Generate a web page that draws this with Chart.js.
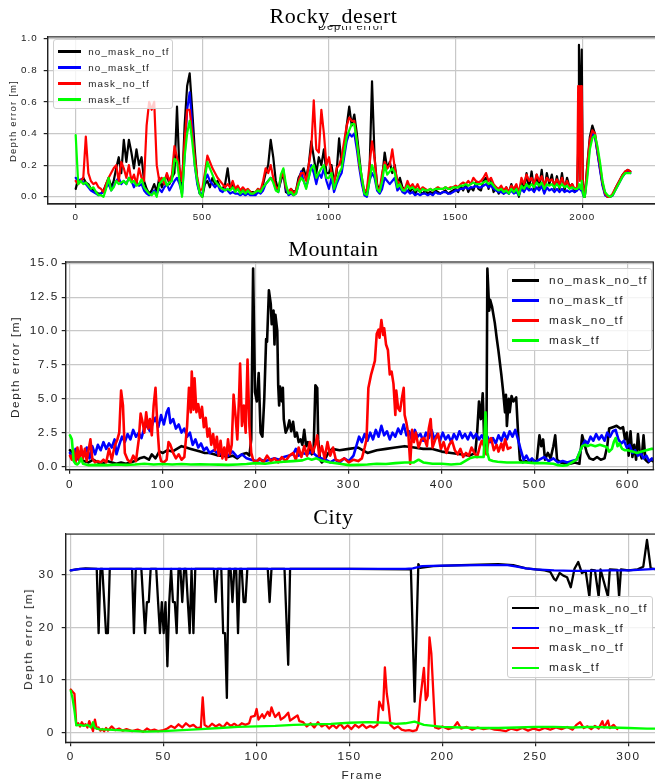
<!DOCTYPE html>
<html><head><meta charset="utf-8">
<script src="https://cdn.jsdelivr.net/npm/chart.js@4.4.0/dist/chart.umd.min.js"></script>
<style>
html,body{margin:0;padding:0;width:655px;height:783px;overflow:hidden;background:#fff;position:relative;}
canvas{position:absolute;}
.title{position:absolute;left:0;width:667px;text-align:center;font-family:'Liberation Serif','Times New Roman',serif;font-size:22px;line-height:22px;color:#000;letter-spacing:0.6px;z-index:3;}
.ylab{position:absolute;transform:translate(-50%,-50%) rotate(-90deg);white-space:nowrap;font-family:'Liberation Sans',Arial,sans-serif;color:#222;}
.lbl{position:absolute;white-space:nowrap;font-family:'Liberation Sans',Arial,sans-serif;color:#222;}
.legend{position:absolute;background:rgba(255,255,255,0.8);border:1px solid #cfcfcf;border-radius:3px;box-sizing:border-box;font-family:'Liberation Sans',Arial,sans-serif;color:#222;z-index:4;}
.legend .ln{position:absolute;}
.legend .tx{position:absolute;white-space:nowrap;}
</style></head><body>

<canvas id="c1" width="662" height="200" style="left:0;top:25px;width:662px;height:200px"></canvas>
<canvas id="c2" width="660" height="240" style="left:0;top:250px;width:660px;height:240px"></canvas>
<canvas id="c3" width="662" height="263" style="left:0;top:520px;width:662px;height:263px"></canvas>

<div style="position:absolute;left:290px;top:25.5px;width:130px;height:7px;overflow:hidden;z-index:2">
  <div class="lbl" style="left:28px;top:-5px;font-size:11px;line-height:11px;letter-spacing:1px">Depth error</div>
</div>
<div class="title" style="top:5px">Rocky_desert</div>
<div class="title" style="top:238.3px">Mountain</div>
<div class="title" style="top:505.6px">City</div>

<div class="ylab" style="left:12.3px;top:120.5px;font-size:9.5px;letter-spacing:1.2px">Depth error [m]</div>
<div class="ylab" style="left:15px;top:366.5px;font-size:11.8px;letter-spacing:1.5px">Depth error [m]</div>
<div class="ylab" style="left:28px;top:639px;font-size:11.8px;letter-spacing:1.5px">Depth error [m]</div>
<div class="lbl" style="left:341.5px;top:768px;font-size:11.8px;line-height:14px;letter-spacing:1.5px">Frame</div>

<div class="legend" style="left:53.3px;top:39.3px;width:120px;height:70px;font-size:9.8px;letter-spacing:1.1px">
  <div class="ln" style="left:3.4px;width:23.3px;top:10.2px;height:2.2px;background:#000"></div><div class="tx" style="left:34px;top:5.4px;line-height:12px">no_mask_no_tf</div>
  <div class="ln" style="left:3.4px;width:23.3px;top:26.2px;height:2.2px;background:#0000ff"></div><div class="tx" style="left:34px;top:21.4px;line-height:12px">no_mask_tf</div>
  <div class="ln" style="left:3.4px;width:23.3px;top:42.2px;height:2.2px;background:#ff0000"></div><div class="tx" style="left:34px;top:37.4px;line-height:12px">mask_no_tf</div>
  <div class="ln" style="left:3.4px;width:23.3px;top:58.2px;height:2.2px;background:#00ff00"></div><div class="tx" style="left:34px;top:53.4px;line-height:12px">mask_tf</div>
</div>
<div class="legend" style="left:506.7px;top:268px;width:145px;height:83.3px;font-size:11.8px;letter-spacing:1.4px">
  <div class="ln" style="left:4px;width:27.3px;top:10.4px;height:2.6px;background:#000"></div><div class="tx" style="left:41.3px;top:4.2px;line-height:14px">no_mask_no_tf</div>
  <div class="ln" style="left:4px;width:27.3px;top:30.4px;height:2.6px;background:#0000ff"></div><div class="tx" style="left:41.3px;top:24.2px;line-height:14px">no_mask_tf</div>
  <div class="ln" style="left:4px;width:27.3px;top:50.4px;height:2.6px;background:#ff0000"></div><div class="tx" style="left:41.3px;top:44.2px;line-height:14px">mask_no_tf</div>
  <div class="ln" style="left:4px;width:27.3px;top:70.4px;height:2.6px;background:#00ff00"></div><div class="tx" style="left:41.3px;top:64.2px;line-height:14px">mask_tf</div>
</div>
<div class="legend" style="left:506.5px;top:596px;width:146px;height:82.3px;font-size:11.8px;letter-spacing:1.4px">
  <div class="ln" style="left:4px;width:27.3px;top:10.1px;height:2.4px;background:#000"></div><div class="tx" style="left:41.6px;top:3.8px;line-height:14px">no_mask_no_tf</div>
  <div class="ln" style="left:4px;width:27.3px;top:30.1px;height:2.4px;background:#0000ff"></div><div class="tx" style="left:41.6px;top:23.8px;line-height:14px">no_mask_tf</div>
  <div class="ln" style="left:4px;width:27.3px;top:49.5px;height:2.4px;background:#ff0000"></div><div class="tx" style="left:41.6px;top:43.2px;line-height:14px">mask_no_tf</div>
  <div class="ln" style="left:4px;width:27.3px;top:69.5px;height:2.4px;background:#00ff00"></div><div class="tx" style="left:41.6px;top:63.2px;line-height:14px">mask_tf</div>
</div>

<script>
// ---------------- DATA ----------------
const seriesNames = ['no_mask_no_tf', 'no_mask_tf', 'mask_no_tf', 'mask_tf'];
const seriesColors = ['#000000', '#0000ff', '#ff0000', '#00ff00'];

// Rocky_desert: shared frame positions, one value per frame for each series
const rockyFrames = [
0,10,20,30,40,50,60,70,80,90,
100,110,120,130,140,150,160,170,180,190,
200,210,220,230,240,250,260,270,280,290,
300,310,320,330,340,350,360,370,380,390,
400,410,420,430,440,450,460,470,480,490,
500,510,520,530,540,550,560,570,580,590,
600,610,620,630,640,650,660,670,680,690,
700,710,720,730,740,750,760,770,780,790,
800,810,820,830,840,850,860,870,880,890,
900,910,920,930,940,950,960,970,980,990,
1000,1010,1020,1030,1040,1050,1060,1070,1080,1090,
1100,1110,1120,1130,1140,1150,1160,1170,1180,1190,
1200,1210,1220,1230,1240,1250,1260,1270,1280,1290,
1300,1310,1320,1330,1340,1350,1360,1370,1380,1390,
1400,1410,1420,1430,1440,1450,1460,1470,1480,1490,
1500,1510,1520,1530,1540,1550,1560,1570,1580,1590,
1600,1610,1620,1630,1640,1650,1660,1670,1680,1690,
1700,1710,1720,1730,1740,1750,1760,1770,1780,1790,
1800,1810,1820,1830,1840,1850,1860,1870,1880,1890,
1900,1910,1920,1930,1940,1950,1960,1970,
1980,1984,1987,1991,1995,1998,2002,2006,2010,
2020,2030,2040,2050,2060,2070,2080,2090,2100,2110,2120,2130,2140,2150,2160,2170,2180,2190];

const rockyNoMaskNoTf = [
0.05,0.11,0.10,0.12,0.09,0.08,0.05,0.04,0.03,0.02,
0.02,0.04,0.08,0.12,0.06,0.10,0.18,0.25,0.15,0.36,
0.22,0.36,0.28,0.18,0.30,0.20,0.25,0.10,0.05,0.02,
0.04,0.08,0.03,0.12,0.06,0.10,0.14,0.08,0.12,0.15,
0.57,0.15,0.05,0.45,0.70,0.78,0.55,0.30,0.10,0.02,
0.00,0.08,0.10,0.06,0.12,0.08,0.10,0.06,0.05,0.08,
0.18,0.05,0.08,0.04,0.06,0.03,0.05,0.02,0.04,0.03,
0.03,0.02,0.05,0.03,0.08,0.15,0.20,0.36,0.25,0.10,
0.04,0.10,0.15,0.03,0.02,0.05,0.03,0.04,0.12,0.15,
0.18,0.12,0.20,0.35,0.25,0.15,0.25,0.20,0.30,0.15,
0.15,0.20,0.10,0.15,0.37,0.20,0.30,0.45,0.57,0.45,
0.52,0.40,0.25,0.10,0.02,0.03,0.15,0.73,0.25,0.08,
0.03,0.12,0.28,0.18,0.22,0.15,0.20,0.08,0.12,0.06,
0.04,0.08,0.03,0.06,0.02,0.05,0.03,0.02,0.04,0.02,
0.03,0.02,0.04,0.03,0.02,0.03,0.04,0.02,0.03,0.04,
0.05,0.03,0.07,0.04,0.08,0.03,0.06,0.04,0.09,0.05,
0.04,0.10,0.12,0.05,0.10,0.03,0.06,0.02,0.05,0.02,
0.06,0.02,0.08,0.03,0.06,0.00,0.10,0.04,0.15,0.05,
0.16,0.04,0.14,0.06,0.17,0.03,0.15,0.08,0.14,0.05,
0.13,0.05,0.15,0.04,0.12,0.06,0.08,0.03,
0.05,0.30,0.96,0.40,0.70,0.93,0.10,0.02,0.00,
0.20,0.38,0.45,0.40,0.28,0.18,0.08,0.02,0.00,0.00,0.01,0.05,0.08,0.11,0.14,0.16,0.17,0.16];

const rockyNoMaskTf = [
0.12,0.10,0.11,0.09,0.08,0.06,0.04,0.03,0.02,0.01,
0.02,0.03,0.06,0.08,0.04,0.07,0.10,0.12,0.08,0.10,
0.08,0.12,0.10,0.06,0.09,0.07,0.08,0.04,0.02,0.01,
0.02,0.04,0.02,0.05,0.03,0.06,0.08,0.04,0.07,0.10,
0.12,0.08,0.02,0.25,0.55,0.66,0.45,0.20,0.08,0.02,
0.02,0.10,0.14,0.10,0.08,0.06,0.08,0.04,0.03,0.05,
0.04,0.02,0.03,0.02,0.02,0.01,0.02,0.01,0.02,0.01,
0.01,0.01,0.03,0.02,0.04,0.08,0.10,0.12,0.10,0.05,
0.03,0.12,0.17,0.05,0.01,0.02,0.01,0.02,0.08,0.16,
0.10,0.06,0.12,0.20,0.15,0.08,0.15,0.12,0.18,0.10,
0.05,0.12,0.03,0.08,0.12,0.15,0.25,0.35,0.40,0.38,
0.40,0.30,0.18,0.08,0.01,0.00,0.10,0.15,0.12,0.04,
0.02,0.05,0.12,0.10,0.08,0.10,0.12,0.04,0.06,0.03,
0.02,0.04,0.02,0.03,0.01,0.02,0.01,0.02,0.02,0.01,
0.02,0.01,0.03,0.02,0.02,0.03,0.03,0.02,0.02,0.03,
0.04,0.04,0.05,0.05,0.06,0.05,0.06,0.06,0.07,0.06,
0.06,0.07,0.08,0.06,0.07,0.05,0.04,0.03,0.03,0.02,
0.03,0.02,0.04,0.02,0.03,0.01,0.05,0.03,0.06,0.04,
0.05,0.03,0.06,0.04,0.07,0.02,0.06,0.04,0.05,0.03,
0.05,0.03,0.05,0.03,0.04,0.03,0.04,0.03,
0.04,0.05,0.06,0.05,0.04,0.05,0.02,0.00,0.00,
0.15,0.33,0.40,0.38,0.28,0.17,0.07,0.01,0.00,0.00,0.01,0.04,0.07,0.10,0.13,0.15,0.16,0.15];

const rockyMaskNoTf = [
0.10,0.08,0.10,0.12,0.38,0.15,0.10,0.08,0.09,0.06,
0.05,0.03,0.08,0.12,0.15,0.18,0.20,0.10,0.22,0.18,
0.12,0.20,0.10,0.14,0.08,0.18,0.12,0.10,0.45,0.60,
0.55,0.60,0.20,0.10,0.12,0.08,0.15,0.10,0.14,0.32,
0.25,0.18,0.10,0.35,0.55,0.55,0.40,0.25,0.12,0.04,
0.05,0.15,0.26,0.22,0.18,0.15,0.12,0.10,0.08,0.06,
0.08,0.06,0.10,0.05,0.07,0.04,0.06,0.04,0.05,0.03,
0.02,0.03,0.05,0.04,0.10,0.18,0.15,0.20,0.12,0.06,
0.05,0.12,0.15,0.06,0.03,0.05,0.02,0.04,0.10,0.15,
0.15,0.10,0.20,0.30,0.61,0.30,0.28,0.55,0.40,0.20,
0.25,0.15,0.08,0.18,0.20,0.25,0.35,0.45,0.50,0.48,
0.48,0.35,0.20,0.12,0.03,0.05,0.20,0.35,0.25,0.06,
0.04,0.15,0.22,0.18,0.20,0.30,0.18,0.10,0.08,0.05,
0.05,0.10,0.06,0.08,0.05,0.08,0.04,0.06,0.05,0.04,
0.05,0.04,0.05,0.06,0.05,0.05,0.06,0.05,0.06,0.06,
0.07,0.06,0.08,0.09,0.08,0.10,0.08,0.12,0.10,0.09,
0.10,0.12,0.15,0.10,0.12,0.08,0.06,0.05,0.07,0.04,
0.06,0.03,0.07,0.05,0.08,0.02,0.12,0.08,0.14,0.10,
0.12,0.08,0.14,0.10,0.13,0.07,0.12,0.10,0.11,0.08,
0.11,0.08,0.12,0.07,0.10,0.06,0.08,0.05,
0.06,0.70,0.68,0.10,0.70,0.70,0.08,0.02,0.00,
0.20,0.36,0.42,0.40,0.30,0.20,0.09,0.02,0.00,0.00,0.02,0.05,0.08,0.11,0.14,0.16,0.17,0.16];

const rockyMaskTf = [
0.39,0.08,0.10,0.08,0.09,0.07,0.05,0.06,0.03,0.01,
0.01,0.00,0.05,0.12,0.04,0.06,0.10,0.08,0.09,0.10,
0.08,0.12,0.09,0.10,0.07,0.08,0.11,0.06,0.04,0.02,
0.01,0.03,0.00,0.08,0.10,0.12,0.07,0.09,0.10,0.24,
0.22,0.10,0.00,0.25,0.40,0.48,0.35,0.20,0.10,0.02,
0.00,0.12,0.22,0.18,0.14,0.10,0.08,0.06,0.05,0.04,
0.05,0.04,0.06,0.03,0.05,0.02,0.04,0.02,0.04,0.02,
0.02,0.03,0.04,0.03,0.06,0.08,0.10,0.12,0.09,0.04,
0.03,0.14,0.18,0.08,0.02,0.03,0.01,0.02,0.08,0.12,
0.10,0.05,0.12,0.18,0.20,0.12,0.15,0.18,0.20,0.12,
0.12,0.15,0.05,0.10,0.15,0.18,0.28,0.38,0.42,0.46,
0.46,0.35,0.22,0.12,0.02,0.01,0.10,0.20,0.15,0.05,
0.03,0.10,0.20,0.14,0.16,0.18,0.15,0.06,0.08,0.04,
0.04,0.07,0.05,0.06,0.04,0.05,0.03,0.05,0.04,0.04,
0.05,0.04,0.05,0.05,0.05,0.05,0.06,0.05,0.05,0.06,
0.06,0.06,0.07,0.07,0.08,0.07,0.08,0.09,0.08,0.08,
0.08,0.09,0.10,0.08,0.09,0.07,0.05,0.04,0.05,0.03,
0.04,0.02,0.05,0.03,0.05,0.01,0.07,0.05,0.08,0.06,
0.08,0.06,0.09,0.07,0.09,0.05,0.08,0.07,0.08,0.06,
0.08,0.06,0.08,0.06,0.07,0.05,0.06,0.05,
0.05,0.06,0.08,0.06,0.05,0.10,0.03,0.00,0.00,
0.12,0.30,0.37,0.39,0.32,0.22,0.10,0.03,0.01,0.00,0.01,0.04,0.07,0.10,0.13,0.15,0.15,0.15];

// Mountain: [frame, value] pairs per series
const mountainNoMaskNoTf = [[0,1.2],[3,1.0],[6,1.1],[10,0.6],[15,0.4],[20,0.3],[25,0.5],[30,0.3],[35,0.2],[40,0.4],[45,0.3],[50,0.2],[55,0.3],[60,0.2],[65,0.3],[70,0.4],[75,0.6],[80,0.7],[85,0.5],[88,0.9],[92,0.6],[96,1.1],[100,1.0],[105,1.2],[110,1.1],[115,1.3],[120,1.5],[125,1.4],[130,1.3],[135,1.2],[140,1.1],[145,1.0],[150,1.0],[155,0.9],[160,0.8],[165,0.8],[170,0.7],[175,0.8],[180,0.6],[185,0.9],[190,1.0],[193,0.8],[195,2.0],[197,14.6],[199,5.5],[201,4.8],[203,6.9],[205,2.5],[207,2.2],[209,5.0],[211,9.4],[212,9.2],[214,13.0],[216,12.0],[217,10.5],[219,11.5],[220,9.0],[221,11.2],[223,10.0],[224,6.0],[225,4.5],[226,5.9],[228,4.8],[229,5.8],[230,3.5],[232,2.5],[234,2.8],[236,3.4],[238,2.6],[240,3.3],[242,2.2],[244,2.5],[246,1.8],[248,2.0],[250,1.6],[252,2.7],[254,1.5],[256,1.8],[258,1.2],[260,0.9],[262,1.0],[264,6.0],[266,5.8],[267,2.0],[269,0.5],[271,0.3],[274,0.5],[278,1.0],[282,1.3],[290,1.2],[300,1.3],[310,1.4],[320,1.0],[330,1.2],[340,1.3],[350,1.4],[360,1.5],[370,1.4],[380,1.3],[390,1.3],[400,1.1],[410,1.0],[420,0.9],[430,0.8],[436,1.0],[438,2.5],[440,4.8],[442,3.5],[444,5.4],[446,1.0],[448,1.5],[449,14.6],[451,11.5],[452,12.3],[454,11.8],[457,10.6],[459,9.5],[461,8.5],[464,6.8],[466,5.5],[468,4.0],[469,5.3],[470,3.0],[472,5.0],[473,4.0],[475,5.2],[477,4.8],[480,5.1],[482,2.5],[484,0.5],[487,0.3],[490,0.4],[494,0.3],[498,0.5],[502,0.3],[505,2.3],[507,1.5],[509,2.0],[511,0.5],[514,1.0],[517,0.6],[520,1.5],[522,2.3],[524,0.5],[528,0.3],[533,0.2],[538,0.2],[543,0.3],[548,0.2],[551,2.3],[553,1.8],[556,1.0],[559,0.6],[563,0.5],[567,0.7],[571,0.5],[575,0.6],[578,1.5],[580,2.8],[584,2.9],[588,3.0],[592,2.8],[595,2.9],[597,2.0],[599,2.5],[601,0.8],[603,2.6],[605,0.7],[607,1.6],[609,0.5],[611,2.4],[613,1.0],[615,0.6],[617,2.3],[619,0.5],[622,0.3],[625,0.5],[627,0.4]];

const mountainNoMaskTf = [[0,1.0],[3,0.6],[6,1.3],[9,0.5],[12,1.2],[15,0.8],[18,1.4],[21,0.6],[24,1.5],[27,0.9],[30,1.6],[33,1.2],[36,1.8],[39,1.3],[42,1.7],[45,1.4],[48,2.0],[50,0.9],[53,1.6],[56,2.2],[59,1.8],[62,2.4],[65,2.0],[68,2.7],[71,2.2],[74,2.5],[77,2.1],[80,2.9],[83,3.0],[86,2.6],[89,3.2],[92,3.6],[95,2.9],[98,3.8],[101,3.1],[104,4.0],[106,4.3],[108,3.2],[111,3.5],[114,2.8],[117,3.1],[120,2.5],[123,2.8],[126,2.2],[129,2.5],[132,1.6],[135,2.0],[138,1.4],[141,1.7],[144,1.2],[147,1.4],[150,1.0],[155,1.2],[160,0.9],[165,1.0],[170,0.8],[175,1.1],[180,0.7],[185,0.9],[190,0.6],[195,0.5],[200,0.4],[205,0.5],[210,0.4],[215,0.5],[220,0.6],[225,0.5],[230,0.7],[235,0.8],[240,0.9],[243,1.3],[246,0.8],[250,1.0],[255,0.9],[260,1.1],[265,0.8],[270,0.6],[275,0.5],[280,0.3],[285,0.5],[290,0.3],[295,0.6],[300,0.4],[305,0.8],[308,1.5],[311,2.2],[314,1.8],[317,2.4],[320,1.9],[323,2.5],[326,2.0],[329,2.7],[332,2.2],[335,3.0],[338,2.3],[341,2.6],[344,2.0],[347,2.5],[350,2.2],[353,2.8],[356,2.4],[359,3.1],[362,2.3],[365,2.6],[368,1.9],[371,2.7],[374,2.2],[377,2.4],[380,1.9],[383,2.5],[386,2.1],[389,2.7],[392,2.0],[395,2.4],[398,1.9],[401,2.5],[404,2.0],[407,2.3],[410,1.8],[413,2.4],[416,2.0],[419,2.6],[422,2.1],[425,2.4],[428,2.0],[431,2.5],[434,2.1],[437,2.4],[440,2.0],[443,2.3],[446,1.9],[449,2.2],[452,1.8],[455,2.1],[458,1.7],[461,2.3],[464,1.9],[467,2.5],[470,2.0],[473,2.6],[476,2.2],[479,2.7],[482,2.0],[485,1.2],[488,0.5],[491,0.8],[494,0.4],[497,0.6],[500,0.3],[505,0.5],[510,0.7],[515,0.4],[520,0.6],[525,0.3],[530,0.4],[535,0.3],[540,0.4],[545,0.5],[548,1.0],[551,1.5],[554,1.9],[557,1.7],[560,2.2],[563,1.9],[566,2.4],[569,2.0],[572,2.3],[575,1.9],[578,2.5],[581,2.2],[584,2.6],[587,2.7],[590,2.0],[593,1.7],[596,1.9],[599,1.4],[602,1.6],[605,1.0],[608,1.2],[611,0.8],[614,1.0],[617,0.6],[620,0.8],[623,0.4],[626,0.6],[627,0.5]];

const mountainMaskNoTf = [[0,0.8],[2,0.5],[4,1.2],[6,0.3],[8,1.4],[10,0.4],[12,1.5],[14,0.6],[16,1.3],[18,0.4],[20,1.2],[22,2.0],[24,0.6],[27,0.3],[30,0.4],[33,0.3],[36,0.5],[39,0.3],[42,1.3],[45,0.5],[48,1.5],[51,2.0],[53,2.5],[55,5.6],[57,4.5],[59,1.0],[62,0.5],[65,0.3],[68,0.8],[71,0.4],[74,2.0],[76,3.9],[78,3.3],[80,2.5],[82,4.0],[84,2.8],[86,3.5],[88,2.3],[90,4.5],[92,5.8],[94,3.0],[96,1.0],[98,0.4],[101,0.3],[104,0.5],[106,1.8],[108,1.6],[111,1.0],[114,0.6],[117,0.9],[120,0.5],[123,0.7],[126,3.0],[128,5.8],[130,4.0],[131,7.0],[133,4.2],[134,6.5],[136,4.0],[138,4.6],[140,3.6],[142,4.4],[144,2.9],[146,3.6],[148,2.2],[150,2.8],[152,1.6],[154,2.4],[156,1.2],[158,2.2],[160,0.8],[162,1.9],[164,0.6],[166,1.4],[168,0.5],[170,2.0],[172,0.9],[174,1.6],[176,5.3],[178,3.8],[180,2.0],[182,5.3],[183,7.6],[185,3.0],[187,4.5],[189,2.5],[191,7.9],[193,3.0],[195,1.0],[197,0.5],[200,0.3],[204,0.6],[208,0.3],[212,0.8],[216,0.4],[220,0.6],[224,0.3],[228,0.7],[232,0.4],[236,0.8],[240,1.0],[243,0.5],[246,1.4],[249,0.7],[252,1.5],[255,0.8],[258,1.8],[261,1.0],[264,1.6],[266,2.3],[268,0.8],[271,1.5],[274,0.6],[277,1.8],[280,0.8],[283,1.4],[286,0.5],[290,0.4],[295,0.6],[300,0.3],[305,0.5],[310,0.4],[314,0.6],[317,1.4],[319,2.0],[321,5.8],[324,6.8],[328,7.8],[330,9.8],[332,10.1],[333,9.5],[335,10.8],[337,9.7],[338,10.2],[340,9.0],[342,8.6],[344,6.8],[346,7.0],[348,6.1],[350,3.8],[351,5.6],[353,4.3],[355,4.1],[357,5.0],[359,5.8],[360,3.8],[362,3.2],[364,2.4],[366,0.2],[368,2.7],[370,1.8],[372,2.5],[375,1.4],[378,2.0],[381,2.1],[384,1.5],[386,2.8],[388,3.5],[390,1.4],[393,2.0],[396,2.4],[399,1.3],[402,1.8],[405,1.0],[408,1.6],[411,1.9],[414,1.2],[417,0.9],[420,1.3],[423,0.7],[426,1.0],[429,0.8],[432,1.4],[435,1.0],[438,0.7],[441,1.5],[443,1.9],[446,1.4],[448,0.9],[450,1.8],[453,2.1],[456,1.2],[459,1.6],[461,1.1],[464,1.7],[466,1.2],[468,2.0],[471,1.3],[474,1.4]];

const mountainMaskTf = [[0,2.3],[2,2.0],[4,0.4],[6,0.2],[8,0.15],[10,0.3],[12,0.6],[14,0.2],[20,0.1],[30,0.12],[40,0.1],[50,0.15],[60,0.12],[70,0.15],[80,0.2],[90,0.15],[100,0.18],[110,0.15],[120,0.18],[130,0.15],[140,0.16],[150,0.15],[160,0.14],[170,0.12],[180,0.15],[190,0.18],[200,0.25],[210,0.2],[220,0.3],[230,0.35],[240,0.4],[250,0.45],[256,0.6],[260,0.5],[265,0.6],[270,0.45],[280,0.3],[290,0.2],[300,0.1],[310,0.12],[320,0.15],[330,0.2],[340,0.18],[350,0.25],[360,0.3],[370,0.3],[375,0.5],[380,0.3],[390,0.2],[400,0.2],[410,0.15],[420,0.2],[425,0.4],[430,0.6],[435,0.7],[440,0.7],[445,0.7],[447,4.0],[449,1.0],[451,0.5],[455,0.4],[460,0.35],[470,0.3],[480,0.3],[490,0.3],[500,0.25],[510,0.25],[520,0.2],[525,0.1],[530,0.05],[535,0.1],[540,0.3],[545,0.5],[548,1.0],[551,1.5],[554,1.6],[557,1.5],[560,1.6],[565,1.5],[570,1.6],[575,1.5],[578,1.4],[580,1.1],[583,1.3],[585,1.8],[587,2.1],[589,1.5],[591,1.7],[594,1.3],[597,1.2],[600,1.2],[605,1.1],[610,1.0],[615,1.1],[620,1.2],[625,1.3],[627,1.3]];

// City: [frame, value] pairs per series
const cityNoMaskNoTf = [[0,30.8],[3,31.0],[8,31.2],[14,31.1],[15,18.9],[16,31.1],[17,31.1],[19,18.9],[20,18.9],[21,31.1],[33,31.1],[34,18.9],[35,31.1],[38,31.1],[40,18.9],[41,24.8],[42,24.8],[43,31.1],[46,31.1],[47,24.8],[48,18.9],[49,24.8],[50,18.9],[51,24.8],[52,12.6],[53,24.8],[54,31.1],[55,24.8],[56,24.8],[57,18.9],[58,31.1],[59,31.1],[60,24.8],[61,31.1],[62,31.1],[63,24.8],[64,18.9],[65,31.1],[66,18.9],[67,31.1],[77,31.1],[78,24.8],[79,31.1],[81,31.1],[82,18.9],[83,18.9],[84,6.6],[85,31.1],[86,31.1],[87,24.8],[88,31.1],[89,31.1],[90,18.9],[91,31.1],[92,31.1],[93,24.8],[94,24.8],[95,31.1],[106,31.1],[107,24.8],[108,31.1],[115,31.1],[117,12.9],[118,31.1],[150,31.1],[183,31.0],[185,5.9],[187,32.0],[188,31.3],[195,31.6],[210,31.8],[230,32.0],[238,31.8],[245,31.2],[255,30.8],[258,30.5],[260,29.2],[261,28.9],[263,30.3],[265,29.8],[267,29.5],[269,27.6],[271,31.1],[273,32.4],[275,30.3],[277,30.7],[279,25.8],[280,30.9],[282,30.8],[284,25.8],[285,31.0],[289,25.8],[290,31.0],[294,30.9],[295,25.8],[296,31.0],[300,30.8],[305,31.0],[308,31.5],[310,36.6],[312,31.2],[315,31.0]];

const cityNoMaskTf = [[0,30.8],[5,31.1],[50,31.1],[100,31.1],[150,31.1],[180,31.1],[184,31.2],[189,31.6],[200,31.7],[220,31.8],[235,31.8],[240,31.5],[245,31.2],[250,31.0],[260,30.8],[270,30.7],[280,30.7],[290,30.8],[300,30.8],[310,31.0],[315,31.1]];

const cityMaskNoTf = [[0,8.2],[1,7.8],[2,7.4],[3,1.5],[4,1.8],[5,1.2],[6,2.0],[7,1.4],[8,1.6],[9,1.0],[10,2.2],[11,1.3],[12,0.3],[13,2.5],[14,0.8],[15,1.0],[16,0.4],[17,0.7],[18,0.3],[19,0.9],[20,0.4],[22,1.2],[24,0.5],[26,0.8],[28,0.4],[30,0.7],[33,0.3],[36,0.6],[39,0.2],[41,0.8],[43,0.4],[45,0.6],[47,0.3],[50,0.5],[52,0.8],[54,1.3],[56,0.9],[58,1.6],[60,1.0],[62,1.8],[64,1.2],[66,1.5],[68,0.9],[70,1.0],[71,6.7],[72,1.5],[74,1.0],[76,1.7],[78,1.2],[80,1.6],[82,1.0],[84,1.9],[86,1.3],[88,1.7],[90,1.2],[92,1.8],[94,1.5],[96,1.8],[97,3.0],[99,3.2],[100,4.5],[101,2.5],[103,3.5],[104,2.8],[106,4.0],[107,3.2],[108,4.8],[109,3.8],[110,3.0],[112,3.8],[113,2.5],[115,3.0],[117,3.8],[118,2.3],[120,2.8],[122,3.3],[123,2.2],[125,2.0],[127,1.2],[129,1.8],[131,1.0],[133,2.0],[135,1.2],[137,1.6],[139,0.8],[141,1.5],[143,0.9],[145,1.7],[147,0.8],[149,1.4],[151,0.7],[153,1.5],[155,1.0],[157,1.6],[159,0.9],[161,1.3],[163,1.0],[165,1.5],[166,5.9],[168,4.3],[169,12.4],[170,7.5],[171,5.0],[172,1.5],[174,0.8],[176,1.2],[178,0.6],[180,0.4],[182,0.5],[184,0.3],[186,0.5],[187,1.5],[188,6.2],[190,12.3],[191,6.2],[192,7.0],[193,18.1],[194,15.0],[196,1.0],[198,0.8],[200,1.2],[203,0.7],[206,1.0],[208,2.0],[210,0.8],[213,1.1],[216,0.6],[219,1.0],[222,0.7],[225,0.9],[228,0.6],[231,0.5],[234,0.3],[237,0.8],[240,0.5],[243,0.9],[246,0.4],[249,0.8],[252,0.5],[255,0.9],[258,0.6],[261,1.0],[264,0.7],[267,1.1],[270,0.6],[272,1.5],[274,2.0],[276,0.9],[278,1.2],[280,0.7],[282,1.3],[284,0.8],[286,2.2],[287,1.0],[289,2.3],[290,0.9],[292,1.5],[294,0.7]];

const cityMaskTf = [[0,8.0],[1,6.5],[2,4.2],[3,1.4],[5,1.5],[7,1.3],[9,1.5],[11,1.0],[12,2.0],[13,0.9],[15,0.7],[20,0.6],[25,0.5],[30,0.4],[35,0.3],[40,0.2],[45,0.25],[50,0.3],[60,0.5],[70,0.7],[80,0.9],[90,1.1],[100,1.2],[110,1.3],[120,1.5],[130,1.6],[140,1.7],[150,1.9],[160,2.0],[170,1.9],[175,1.7],[180,1.8],[185,2.1],[190,1.5],[195,1.3],[200,1.1],[210,1.0],[220,0.9],[230,0.9],[240,1.0],[250,1.1],[260,1.1],[270,1.0],[280,1.1],[290,1.0],[300,0.9],[310,0.8],[315,0.8]];

// tick values
const rockyXTicks = [0, 500, 1000, 1500, 2000];
const rockyYTicks = [0.0, 0.2, 0.4, 0.6, 0.8, 1.0];
const mountainXTicks = [0, 100, 200, 300, 400, 500, 600];
const mountainYTicks = [0.0, 2.5, 5.0, 7.5, 10.0, 12.5, 15.0];
const cityXTicks = [0, 50, 100, 150, 200, 250, 300];
const cityYTicks = [0, 10, 20, 30];

// ---------------- CHARTS ----------------
Chart.defaults.font.family = "'Liberation Sans', Arial, sans-serif";
Chart.defaults.color = '#222';

const framePlugin = {
  id: 'frameBox',
  beforeDraw(chart, args, opts) { chart.ctx.letterSpacing = opts.ls || '0px'; },
  afterDraw(chart) {
    const a = chart.chartArea, ctx = chart.ctx;
    ctx.save();
    ctx.strokeStyle = '#222';
    ctx.lineWidth = 1.2;
    ctx.strokeRect(a.left, a.top, a.right - a.left, a.bottom - a.top);
    ctx.restore();
  }
};

function pairsToPts(pairs) { return pairs.map(p => ({x: p[0], y: p[1]})); }
function framesToPts(frames, vals) { return frames.map((f, i) => ({x: f, y: vals[i]})); }

function makeDatasets(ptsList, lw) {
  return ptsList.map((pts, i) => ({
    label: seriesNames[i], data: pts, borderColor: seriesColors[i], backgroundColor: seriesColors[i],
    borderWidth: lw, pointRadius: 0, pointHoverRadius: 0, tension: 0, fill: false,
    order: 4 - i, borderJoinStyle: 'round', borderCapStyle: 'round'
  }));
}

function makeChart(id, datasets, o) {
  const tickSet = (vals) => (scale) => { scale.ticks = vals.map(v => ({value: v})); };
  return new Chart(document.getElementById(id), {
    type: 'line',
    data: { datasets },
    options: {
      responsive: false, animation: false, devicePixelRatio: 1,
      events: [],
      layout: { padding: { left: 0, top: o.padTop, right: o.padRight, bottom: 0 } },
      plugins: { legend: { display: false }, tooltip: { enabled: false }, frameBox: { ls: o.ls } },
      scales: {
        x: {
          type: 'linear', min: o.xmin, max: o.xmax,
          afterFit(s) { s.height = o.xH; },
          afterBuildTicks: tickSet(o.xTicks),
          ticks: { autoSkip: false, maxRotation: 0, font: { size: o.fs }, color: '#222', padding: o.xpad, callback: v => String(v) },
          grid: { color: '#c8c8c8', lineWidth: 1.2, tickLength: 4, tickColor: '#222', tickWidth: 1.2, drawTicks: true },
          border: { display: true, color: '#222', width: 1.2 }
        },
        y: {
          type: 'linear', min: o.ymin, max: o.ymax,
          afterFit(s) { s.width = o.yW; },
          afterBuildTicks: tickSet(o.yTicks),
          ticks: { autoSkip: false, font: { size: o.fs }, color: '#222', padding: o.ypad, callback: v => v.toFixed(o.ydec) },
          grid: { color: '#c8c8c8', lineWidth: 1.2, tickLength: 4, tickColor: '#222', tickWidth: 1.2, drawTicks: true },
          border: { display: true, color: '#222', width: 1.2 }
        }
      }
    },
    plugins: [framePlugin]
  });
}

makeChart('c1', makeDatasets([
  framesToPts(rockyFrames, rockyNoMaskNoTf), framesToPts(rockyFrames, rockyNoMaskTf),
  framesToPts(rockyFrames, rockyMaskNoTf), framesToPts(rockyFrames, rockyMaskTf)
], 2.2), { padTop: 10, padRight: 2, xH: 21, yW: 47.7, xmin: -110.5, xmax: 2307, ymin: -0.0456, ymax: 1.0106,
      xTicks: rockyXTicks, yTicks: rockyYTicks, fs: 9.8, xpad: 3, ypad: 6, ydec: 1, ls: '1px' });

makeChart('c2', makeDatasets([
  pairsToPts(mountainNoMaskNoTf), pairsToPts(mountainNoMaskTf), pairsToPts(mountainMaskNoTf), pairsToPts(mountainMaskTf)
], 2.6), { padTop: 12, padRight: 6.7, xH: 20.3, yW: 65.7, xmin: -4.6, xmax: 627.5, ymin: -0.236, ymax: 15.09,
      xTicks: mountainXTicks, yTicks: mountainYTicks, fs: 11.8, xpad: 4, ypad: 3, ydec: 1, ls: '1.5px' });

makeChart('c3', makeDatasets([
  pairsToPts(cityNoMaskNoTf), pairsToPts(cityNoMaskTf), pairsToPts(cityMaskNoTf), pairsToPts(cityMaskTf)
], 2.3), { padTop: 13.3, padRight: 2, xH: 40.7, yW: 65.7, xmin: -2.7, xmax: 317, ymin: -1.81, ymax: 37.69,
      xTicks: cityXTicks, yTicks: cityYTicks, fs: 11.8, xpad: 3, ypad: 7, ydec: 0, ls: '1.5px' });
</script>
</body></html>
